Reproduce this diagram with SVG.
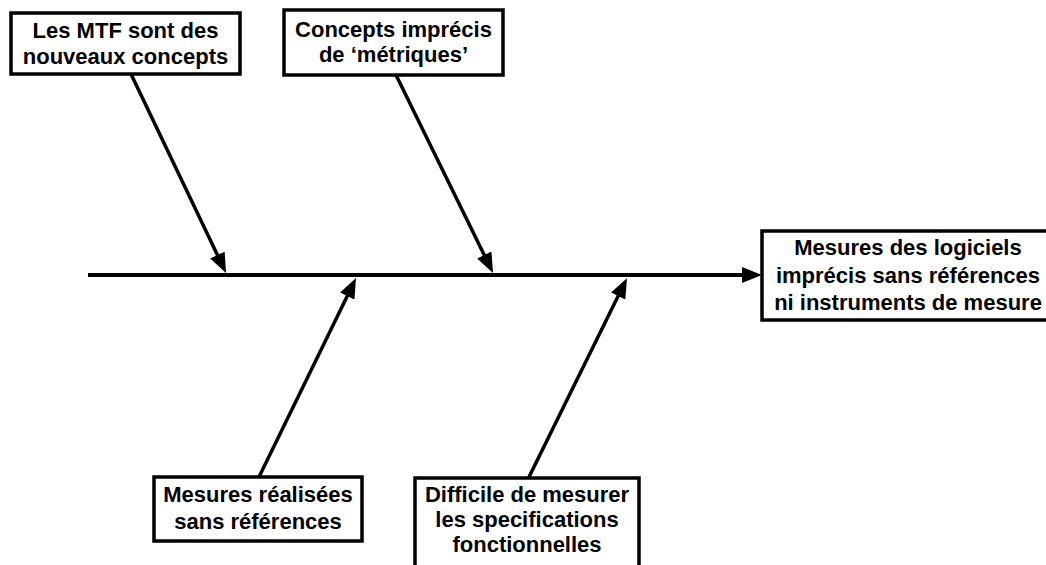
<svg xmlns="http://www.w3.org/2000/svg" width="1046" height="565" viewBox="0 0 1046 565">
<style>
.box{fill:#fff;stroke:#000;stroke-width:3.5}
.t{font-family:"Liberation Sans",Arial,sans-serif;font-weight:bold;font-size:22px;fill:#000;text-anchor:middle}
.c{stroke:#000;stroke-width:3.5;fill:none;marker-end:url(#ah)}
</style>
<defs>
<marker id="ah" viewBox="0 0 20 16" refX="9" refY="8" markerWidth="20" markerHeight="16" markerUnits="userSpaceOnUse" orient="auto">
<path d="M0,0 L20,8 L0,16 z" fill="#000"/>
</marker>
</defs>
<rect width="1046" height="565" fill="#fff"/>
<g id="connectors">
<line class="c" x1="88" y1="275" x2="751" y2="275" style="stroke-width:4"/>
<line class="c" x1="131" y1="74" x2="221.3" y2="263.1"/>
<line class="c" x1="396" y1="75" x2="488.2" y2="263.1"/>
<line class="c" x1="259" y1="477" x2="351.2" y2="288"/>
<line class="c" x1="529" y1="477" x2="622.1" y2="288"/>
</g>
<g id="n1">
<rect class="box" x="11" y="13" width="229" height="61"/>
<text class="t" x="125.5" y="38">Les MTF sont des</text>
<text class="t" x="125.5" y="64">nouveaux concepts</text>
</g>
<g id="n2">
<rect class="box" x="284" y="10" width="219" height="65"/>
<text class="t" x="393.5" y="37">Concepts imprécis</text>
<text class="t" x="393.5" y="62">de ‘métriques’</text>
</g>
<g id="n3">
<rect class="box" x="154" y="477" width="208" height="64"/>
<text class="t" x="258" y="502">Mesures réalisées</text>
<text class="t" x="258" y="529">sans références</text>
</g>
<g id="n4">
<rect class="box" x="415" y="478" width="224" height="95"/>
<text class="t" x="527" y="502">Difficile de mesurer</text>
<text class="t" x="527" y="527">les specifications</text>
<text class="t" x="527" y="552">fonctionnelles</text>
</g>
<g id="effect">
<rect class="box" x="762" y="231" width="300" height="89"/>
<text class="t" x="908" y="255">Mesures des logiciels</text>
<text class="t" x="908" y="283">imprécis sans références</text>
<text class="t" x="908" y="310">ni instruments de mesure</text>
</g>
</svg>
